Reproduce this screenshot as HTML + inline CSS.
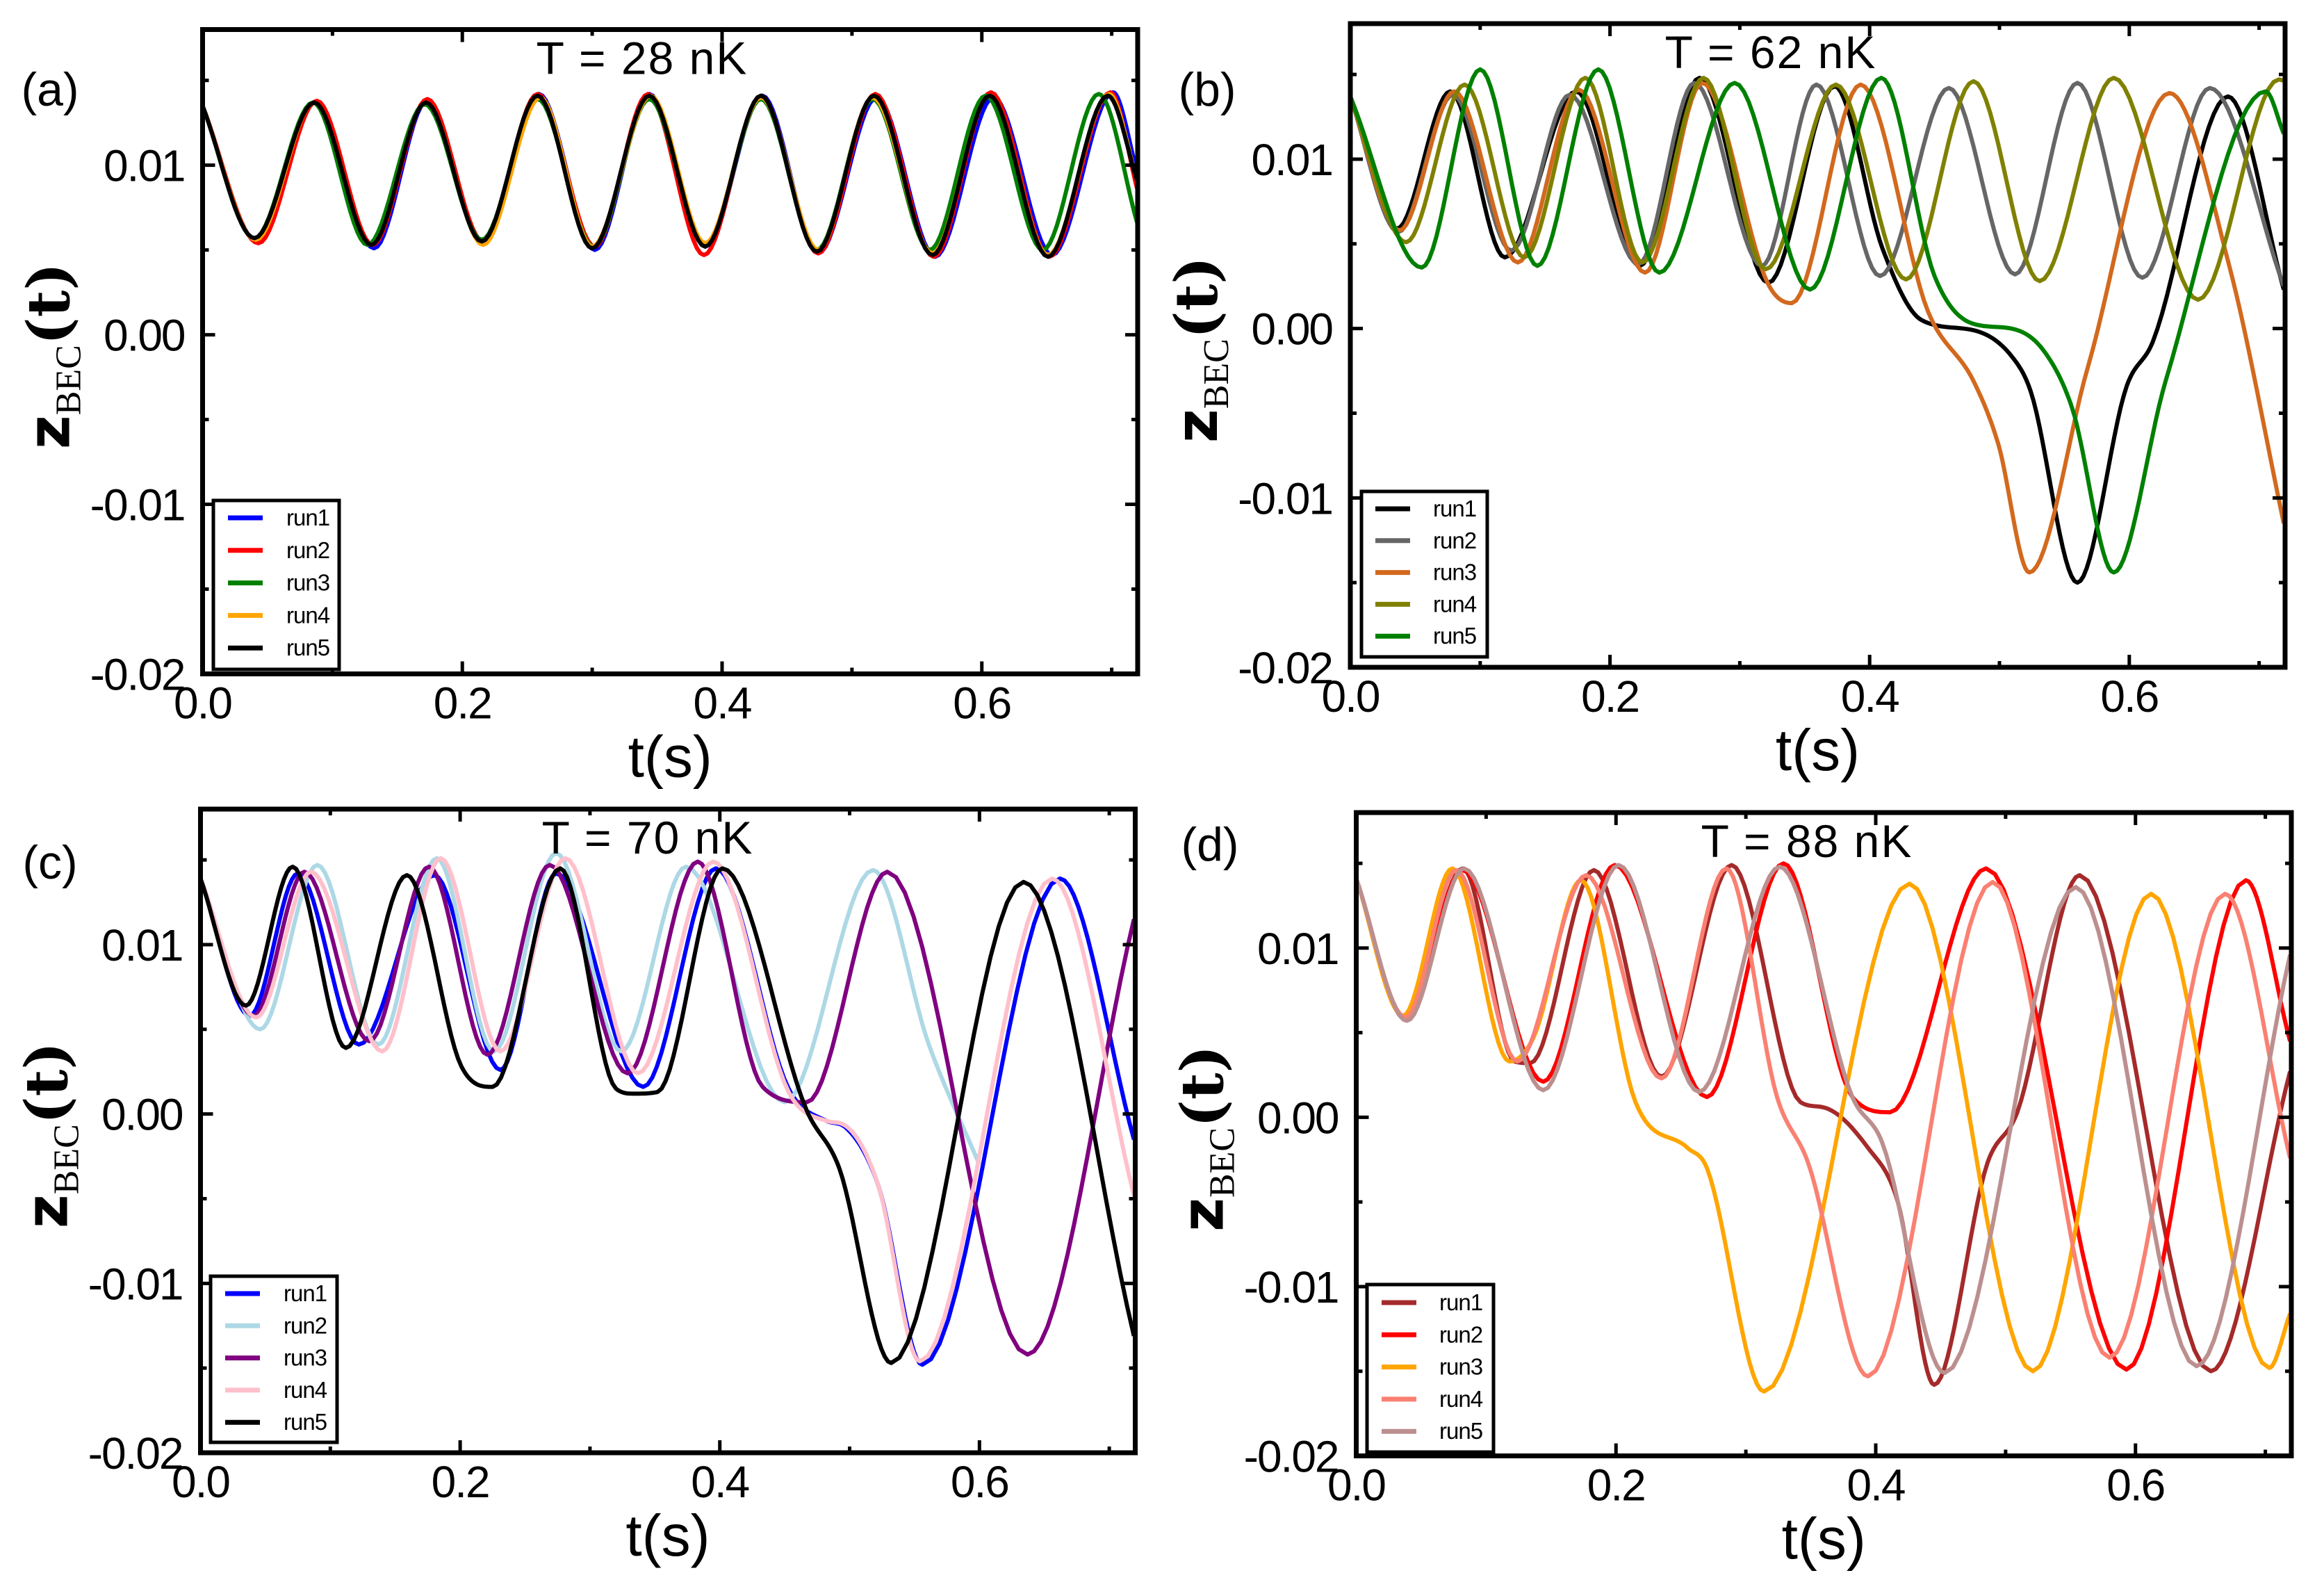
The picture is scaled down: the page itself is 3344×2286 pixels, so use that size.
<!DOCTYPE html>
<html><head><meta charset="utf-8"><title>z_BEC(t) runs</title>
<style>
html,body{margin:0;padding:0;background:#fff;}
svg{display:block;}
text{font-family:"Liberation Sans",sans-serif;fill:#000;}
</style></head>
<body>
<svg id="fig" width="3344" height="2286" viewBox="0 0 3344 2286" xmlns="http://www.w3.org/2000/svg"></svg>
<script>
// ---------- Panel (a) T = 28 nK ----------
const a_run1_t=[0,0.041,0.086,0.132,0.173,0.216,0.259,0.302,0.344,0.387,0.431,0.474,0.519,0.564,0.609,0.654,0.701,0.72];
const a_run1_z=[0.0135,0.0056,0.0137,0.0051,0.0138,0.0055,0.0142,0.005,0.0142,0.0052,0.0141,0.0048,0.014,0.0046,0.014,0.0047,0.0143,0.0095];
const a_run2_t=[0,0.043,0.088,0.131,0.173,0.216,0.258,0.302,0.343,0.386,0.43,0.474,0.518,0.563,0.607,0.652,0.699,0.72];
const a_run2_z=[0.0135,0.0054,0.0138,0.0053,0.0139,0.0055,0.0142,0.0052,0.0142,0.0047,0.0141,0.0048,0.0142,0.0046,0.0143,0.0046,0.0143,0.0085];
const a_run3_t=[0,0.04,0.085,0.127,0.171,0.215,0.258,0.301,0.344,0.387,0.43,0.473,0.516,0.56,0.603,0.647,0.69,0.72];
const a_run3_z=[0.0135,0.0057,0.0137,0.0053,0.0136,0.0056,0.0139,0.0052,0.0139,0.0053,0.0139,0.005,0.0139,0.005,0.0141,0.005,0.0142,0.0065];
const a_run4_t=[0,0.041,0.086,0.13,0.172,0.216,0.26,0.3,0.345,0.387,0.43,0.474,0.516,0.562,0.606,0.651,0.698,0.72];
const a_run4_z=[0.0135,0.0056,0.0137,0.0053,0.0137,0.0053,0.014,0.0052,0.0141,0.0054,0.014,0.005,0.014,0.0048,0.0141,0.0047,0.0142,0.009];
const a_run5_t=[0,0.04,0.086,0.13,0.172,0.215,0.258,0.3,0.344,0.387,0.43,0.473,0.517,0.562,0.606,0.651,0.697,0.72];
const a_run5_z=[0.0135,0.0057,0.0137,0.0053,0.0137,0.0055,0.0141,0.0051,0.0141,0.0052,0.0141,0.0049,0.0141,0.0047,0.0141,0.0046,0.0141,0.009];
// ---------- Panel (b) T = 62 nK ----------
const b_run1_t=[0,0.036,0.077,0.119,0.174,0.223,0.269,0.322,0.373,0.41,0.44,0.48,0.509,0.524,0.56,0.598,0.618,0.676,0.719];
const b_run1_z=[0.0137,0.0059,0.014,0.0042,0.014,0.0037,0.0148,0.0027,0.0143,0.0047,0.0005,-0.0001,-0.0016,-0.0037,-0.015,-0.0034,-0.0008,0.0137,0.0023];
const b_run2_t=[0,0.037,0.079,0.124,0.169,0.222,0.265,0.317,0.359,0.408,0.461,0.512,0.56,0.61,0.662,0.719];
const b_run2_z=[0.0137,0.0057,0.0138,0.0046,0.0138,0.0038,0.0145,0.0037,0.0144,0.0031,0.0142,0.0032,0.0145,0.003,0.0142,0.0025];
const b_run3_t=[0,0.038,0.08,0.129,0.176,0.227,0.271,0.322,0.34,0.393,0.445,0.48,0.499,0.523,0.568,0.631,0.677,0.719];
const b_run3_z=[0.0137,0.0058,0.014,0.0039,0.0141,0.0033,0.0145,0.0026,0.0015,0.0144,0.001,-0.0031,-0.0068,-0.0144,-0.0023,0.0139,0.0037,-0.0115];
const b_run4_t=[0,0.043,0.088,0.134,0.181,0.225,0.272,0.32,0.374,0.428,0.48,0.531,0.588,0.653,0.715,0.72];
const b_run4_z=[0.0137,0.0051,0.0144,0.0042,0.0148,0.0039,0.0148,0.0035,0.0144,0.0029,0.0146,0.0028,0.0148,0.0017,0.0147,0.0146];
const b_run5_t=[0,0.055,0.1,0.144,0.191,0.238,0.296,0.354,0.409,0.45,0.479,0.509,0.534,0.556,0.588,0.628,0.705,0.719];
const b_run5_z=[0.0137,0.0036,0.0153,0.0037,0.0153,0.0033,0.0145,0.0023,0.0148,0.0031,0.0003,0.0,-0.0013,-0.0047,-0.0144,-0.0031,0.014,0.0115];
// ---------- Panel (c) T = 70 nK ----------
const c_run1_t=[0,0.038,0.075,0.122,0.18,0.231,0.274,0.341,0.397,0.453,0.482,0.497,0.522,0.556,0.662,0.719];
const c_run1_z=[0.0139,0.0058,0.0142,0.0041,0.0141,0.0026,0.0142,0.0016,0.0145,0.0015,-0.0004,-0.0008,-0.0042,-0.0148,0.0139,-0.0015];
const c_run2_t=[0,0.046,0.09,0.137,0.182,0.226,0.274,0.324,0.374,0.45,0.518,0.561,0.6];
const c_run2_z=[0.0139,0.005,0.0147,0.0041,0.0151,0.0037,0.0154,0.0037,0.0146,0.0007,0.0144,0.0041,-0.003];
const c_run3_t=[0,0.041,0.08,0.13,0.176,0.221,0.269,0.329,0.383,0.433,0.467,0.529,0.637,0.719];
const c_run3_z=[0.0139,0.0058,0.0143,0.0043,0.0146,0.0035,0.0147,0.0024,0.0149,0.0016,0.0007,0.0143,-0.0142,0.0115];
const c_run4_t=[0,0.043,0.085,0.14,0.185,0.231,0.281,0.337,0.395,0.453,0.482,0.497,0.522,0.554,0.656,0.719];
const c_run4_z=[0.0139,0.0057,0.0143,0.0037,0.0151,0.0037,0.0151,0.0024,0.0149,0.0013,-0.0004,-0.0007,-0.0042,-0.0146,0.0139,-0.0048];
const c_run5_t=[0,0.035,0.071,0.112,0.159,0.201,0.225,0.277,0.32,0.334,0.352,0.402,0.467,0.492,0.532,0.634,0.719];
const c_run5_z=[0.0139,0.0064,0.0146,0.0039,0.0141,0.0028,0.0016,0.0145,0.0015,0.0012,0.0013,0.0145,0.0002,-0.0032,-0.0147,0.0137,-0.0131];
// ---------- Panel (d) T = 88 nK ----------
const d_run1_t=[0,0.038,0.082,0.122,0.134,0.183,0.235,0.289,0.342,0.359,0.394,0.417,0.445,0.486,0.509,0.557,0.658,0.719];
const d_run1_z=[0.0141,0.0058,0.0147,0.0033,0.0032,0.0146,0.0024,0.0149,0.0009,0.0006,-0.0018,-0.005,-0.0158,-0.0027,0.0003,0.0143,-0.015,0.0027];
const d_run2_t=[0,0.038,0.082,0.144,0.199,0.27,0.329,0.382,0.411,0.485,0.593,0.685,0.719];
const d_run2_z=[0.0141,0.0058,0.0146,0.0021,0.0149,0.0012,0.015,0.0012,0.0003,0.0147,-0.0149,0.014,0.0045];
const d_run3_t=[0,0.036,0.074,0.118,0.137,0.173,0.215,0.255,0.27,0.314,0.426,0.521,0.612,0.703,0.719];
const d_run3_z=[0.0141,0.006,0.0147,0.0033,0.0048,0.014,0.0009,-0.0018,-0.003,-0.0162,0.0138,-0.015,0.0132,-0.0148,-0.0116];
const d_run4_t=[0,0.038,0.077,0.124,0.177,0.235,0.285,0.324,0.348,0.394,0.49,0.58,0.669,0.719];
const d_run4_z=[0.0141,0.0059,0.0146,0.0033,0.0143,0.0023,0.0147,0.0012,-0.0027,-0.0153,0.0139,-0.0142,0.0132,-0.0024];
const d_run5_t=[0,0.039,0.083,0.144,0.202,0.264,0.326,0.382,0.405,0.453,0.554,0.647,0.719];
const d_run5_z=[0.0141,0.0057,0.0147,0.0016,0.0149,0.0015,0.0148,0.0012,-0.0015,-0.0151,0.0136,-0.0147,0.0096];

const runNames=["run1","run2","run3","run4","run5"];
const yTickVals=[-0.02,-0.01,0.0,0.01];
const yTickLabels=["-0.02","-0.01","0.00","0.01"];
const yMinorVals=[-0.015,-0.005,0.005,0.015];
const xTickVals=[0,0.2,0.4,0.6];
const xTickLabels=["0.0","0.2","0.4","0.6"];
const xMinorVals=[0.1,0.3,0.5,0.7];
const T_MAX=0.72, Z_MIN=-0.02, Z_MAX=0.018;

const NS="http://www.w3.org/2000/svg";
const svg=document.getElementById('fig');
function el(tag,attrs,parent){const e=document.createElementNS(NS,tag);for(const k in attrs)e.setAttribute(k,attrs[k]);(parent||svg).appendChild(e);return e;}

function monotone(xs,ys){
  const n=xs.length,d=[],m=new Array(n);
  for(let i=0;i<n-1;i++)d.push((ys[i+1]-ys[i])/(xs[i+1]-xs[i]));
  m[0]=d[0];m[n-1]=d[n-2];
  for(let i=1;i<n-1;i++){m[i]=(d[i-1]*d[i]<=0)?0:(d[i-1]+d[i])/2;}
  for(let i=0;i<n-1;i++){
    if(d[i]===0){m[i]=0;m[i+1]=0;continue;}
    const a=m[i]/d[i],b=m[i+1]/d[i],s=a*a+b*b;
    if(s>9){const t=3/Math.sqrt(s);m[i]=t*a*d[i];m[i+1]=t*b*d[i];}
  }
  const out=[];
  for(let i=0;i<n-1;i++){
    const h=xs[i+1]-xs[i];
    for(let k=0;k<16;k++){
      const u=k/16,h00=2*u*u*u-3*u*u+1,h10=u*u*u-2*u*u+u,h01=-2*u*u*u+3*u*u,h11=u*u*u-u*u;
      out.push([xs[i]+u*h,h00*ys[i]+h10*h*m[i]+h01*ys[i+1]+h11*h*m[i+1]]);
    }
  }
  out.push([xs[n-1],ys[n-1]]);
  return out;
}

function panel(cfg){
  const g=el('g',{});
  
  
  const {x0,x1,y0,y1}=cfg;
  const X=t=>x0+t/T_MAX*(x1-x0);
  const Y=z=>y0+(Z_MAX-z)/(Z_MAX-Z_MIN)*(y1-y0);
  const cp=el('clipPath',{id:'clip-'+cfg.id},g);
  el('rect',{x:x0,y:y0,width:x1-x0,height:y1-y0},cp);
  const lines=el('g',{'clip-path':'url(#clip-'+cfg.id+')'},g);
  cfg.runs.forEach((r,i)=>{
    const pts=monotone(r.t,r.z);
    const d=pts.map((p,j)=>(j?'L':'M')+X(p[0]).toFixed(1)+' '+Y(p[1]).toFixed(1)).join('');
    const p=el('path',{d:d,fill:'none',stroke:r.color,'stroke-width':6,'stroke-linejoin':'round'},lines);
    
    
  });
  // ticks
  const tk=el('g',{stroke:'#000','stroke-width':5},g);
  yTickVals.forEach(v=>{el('line',{x1:x0,x2:x0+18,y1:Y(v),y2:Y(v)},tk);el('line',{x1:x1,x2:x1-18,y1:Y(v),y2:Y(v)},tk);});
  yMinorVals.forEach(v=>{el('line',{x1:x0,x2:x0+9,y1:Y(v),y2:Y(v)},tk);el('line',{x1:x1,x2:x1-9,y1:Y(v),y2:Y(v)},tk);});
  xTickVals.forEach(v=>{el('line',{x1:X(v),x2:X(v),y1:y1,y2:y1-18},tk);el('line',{x1:X(v),x2:X(v),y1:y0,y2:y0+18},tk);});
  xMinorVals.forEach(v=>{el('line',{x1:X(v),x2:X(v),y1:y1,y2:y1-9},tk);el('line',{x1:X(v),x2:X(v),y1:y0,y2:y0+9},tk);});
  const fr=el('rect',{x:x0,y:y0,width:x1-x0,height:y1-y0,fill:'none',stroke:'#000','stroke-width':7},g);
  
  
  yTickVals.forEach((v,i)=>{
    const t=el('text',{x:x0-26,y:Y(v)+23,'font-size':64,'text-anchor':'end','letter-spacing':-2},g);
    t.textContent=yTickLabels[i];
    
    
  });
  xTickVals.forEach((v,i)=>{
    const t=el('text',{x:X(v),y:y1+64,'font-size':64,'text-anchor':'middle','letter-spacing':-2},g);
    t.textContent=xTickLabels[i];
    
    
  });
  const xt=el('text',{x:(x0+x1)/2,y:y1+148,'font-size':84,'text-anchor':'middle'},g);
  xt.textContent='t(s)';
  
  
  const yt=el('text',{transform:'translate('+(x0-192)+','+((y0+y1)/2+6)+') rotate(-90)','text-anchor':'middle','font-size':84},g);
  
  
  const s1=el('tspan',{'font-family':'DejaVu Sans, sans-serif','font-weight':'bold'},yt);s1.textContent='z';
  const s2=el('tspan',{'font-family':'Liberation Serif, serif','font-size':52,dy:16},yt);s2.textContent='BEC';
  const s3=el('tspan',{'font-family':'DejaVu Serif, serif','font-weight':'bold',dy:-16},yt);s3.textContent='(t)';
  const ti=el('text',{x:cfg.titleX,y:y0+64,'font-size':66,'text-anchor':'middle','letter-spacing':2},g);
  ti.textContent=cfg.title;
  
  
  const lb=el('text',{x:cfg.labX,y:cfg.labY,'font-size':68,'text-anchor':'middle'},g);
  lb.textContent=cfg.label;
  
  
  // legend
  const L=cfg.leg;
  const lg=el('g',{},g);
  
  
  el('rect',{x:L.x,y:L.y,width:L.w,height:L.h,fill:'#fff',stroke:'#000','stroke-width':5},lg);
  cfg.runs.forEach((r,i)=>{
    const yy=L.ey+i*L.step;
    const e=el('g',{},lg);
    
    
    el('line',{x1:L.lx1,x2:L.lx2,y1:yy,y2:yy,stroke:r.color,'stroke-width':7},e);
    const t=el('text',{x:L.tx,y:yy+11,'font-size':33,'letter-spacing':-1},e);
    t.textContent=runNames[i];
  });
}

panel({id:'panel-a',x0:291.5,x1:1637,y0:42.5,y1:969.5,title:'T = 28 nK',titleX:924,label:'(a)',labX:72,labY:152,
  leg:{x:307,y:720,w:181,h:243,ey:745,step:46.8,lx1:328,lx2:378,tx:412},
  runs:[{t:a_run1_t,z:a_run1_z,color:'#0000ff'},{t:a_run2_t,z:a_run2_z,color:'#ff0000'},{t:a_run3_t,z:a_run3_z,color:'#008000'},{t:a_run4_t,z:a_run4_z,color:'#ffa500'},{t:a_run5_t,z:a_run5_z,color:'#000000'}]});
panel({id:'panel-b',x0:1943,x1:3288,y0:34,y1:960,title:'T = 62 nK',titleX:2548,label:'(b)',labX:1737,labY:152,
  leg:{x:1959,y:707,w:181,h:238,ey:732,step:45.8,lx1:1979,lx2:2029,tx:2062},
  runs:[{t:b_run1_t,z:b_run1_z,color:'#000000'},{t:b_run2_t,z:b_run2_z,color:'#666666'},{t:b_run3_t,z:b_run3_z,color:'#d2691e'},{t:b_run4_t,z:b_run4_z,color:'#808000'},{t:b_run5_t,z:b_run5_z,color:'#008000'}]});
panel({id:'panel-c',x0:288.5,x1:1633.5,y0:1164,y1:2090,title:'T = 70 nK',titleX:932,label:'(c)',labX:72,labY:1264,
  leg:{x:303,y:1836,w:182,h:239,ey:1861,step:46.3,lx1:324,lx2:374,tx:408},
  runs:[{t:c_run1_t,z:c_run1_z,color:'#0000ff'},{t:c_run2_t,z:c_run2_z,color:'#add8e6'},{t:c_run3_t,z:c_run3_z,color:'#800080'},{t:c_run4_t,z:c_run4_z,color:'#ffc0cb'},{t:c_run5_t,z:c_run5_z,color:'#000000'}]});
panel({id:'panel-d',x0:1951.5,x1:3297,y0:1169,y1:2094.5,title:'T = 88 nK',titleX:2600,label:'(d)',labX:1741,labY:1238,
  leg:{x:1967,y:1848,w:182,h:241,ey:1874,step:46.3,lx1:1988,lx2:2038,tx:2071},
  runs:[{t:d_run1_t,z:d_run1_z,color:'#a52a2a'},{t:d_run2_t,z:d_run2_z,color:'#ff0000'},{t:d_run3_t,z:d_run3_z,color:'#ffa500'},{t:d_run4_t,z:d_run4_z,color:'#fa8072'},{t:d_run5_t,z:d_run5_z,color:'#bc8f8f'}]});
</script>
</body></html>
